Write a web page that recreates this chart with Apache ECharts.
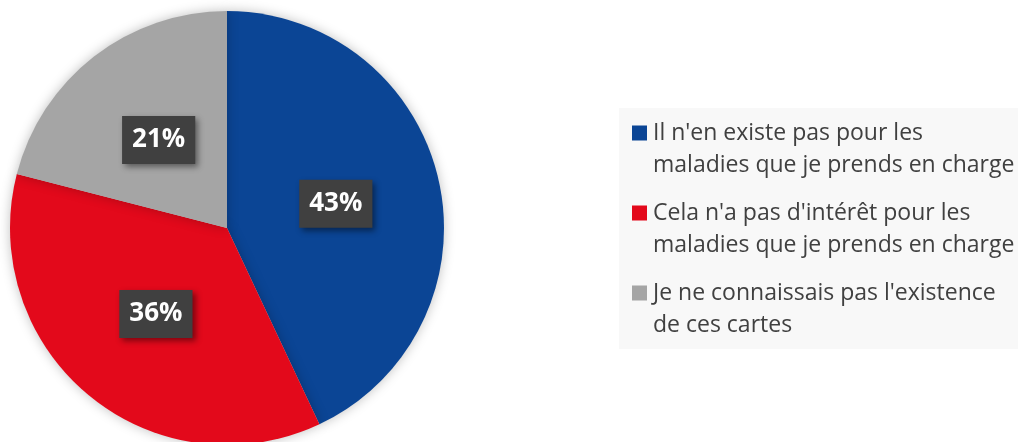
<!DOCTYPE html>
<html>
<head>
<meta charset="utf-8">
<style>
  html, body { margin: 0; padding: 0; background: #fff; }
  #chart { width: 1018px; height: 442px; }
</style>
<script src="https://cdn.jsdelivr.net/npm/echarts@6/dist/echarts.min.js"></script>
</head>
<body>
<div id="chart"></div>
<script>
// données
const categories = [
  "Il n'en existe pas pour les\nmaladies que je prends en charge",
  "Cela n'a pas d'intérêt pour les\nmaladies que je prends en charge",
  "Je ne connaissais pas l'existence\nde ces cartes"
];
const values = [43, 36, 21];
const colors = ['#0b4595', '#e3091b', '#a5a5a5'];

const chart = echarts.init(document.getElementById('chart'));

// marqueur de légende aligné sur la première ligne
const rich = { s: { width: 21 }, t: { fontSize: 23, lineHeight: 32, color: '#404040', fontFamily: 'Open Sans' } };
colors.forEach((c, i) => {
  rich['m' + i] = { width: 15, height: 15, backgroundColor: c, padding: 0 };
  rich['g' + i] = { width: 6 };
});

chart.setOption({
  animation: false,
  backgroundColor: '#fff',
  legend: {
    orient: 'vertical',
    left: 619,
    top: 108,
    padding: [9, 60, 8, 8],
    backgroundColor: '#f8f8f8',
    itemGap: 16,
    itemWidth: 0,
    itemHeight: 0,
    icon: 'rect',
    selectedMode: false,
    data: categories,
    formatter: function (name) {
      const i = categories.indexOf(name);
      const lines = name.split('\n');
      return lines.map((l, k) => (k === 0 ? '{m' + i + '|}{g' + i + '|}' : '{s|}') + '{t|' + l + '}').join('\n');
    },
    textStyle: { rich: rich, lineHeight: 32 }
  },
  series: [
    {
      type: 'pie',
      center: [227, 228],
      radius: 217,
      startAngle: 90,
      clockwise: true,
      data: categories.map((n, i) => ({ name: n, value: values[i], itemStyle: { color: colors[i] } })),
      itemStyle: {
        shadowBlur: 12,
        shadowColor: 'rgba(0,0,0,0.25)'
      },
      label: {
        show: true,
        position: 'inside',
        formatter: p => p.value + '%',
        color: '#fff',
        fontFamily: 'Open Sans',
        fontWeight: 'bold',
        fontSize: 26,
        backgroundColor: '#404040',
        padding: [12, 10, 10, 10],
        shadowBlur: 6,
        shadowOffsetX: 3,
        shadowOffsetY: 3,
        shadowColor: 'rgba(0,0,0,0.45)'
      },
      labelLine: { show: false },
      emphasis: { scale: false }
    }
  ]
});
</script>
</body>
</html>
